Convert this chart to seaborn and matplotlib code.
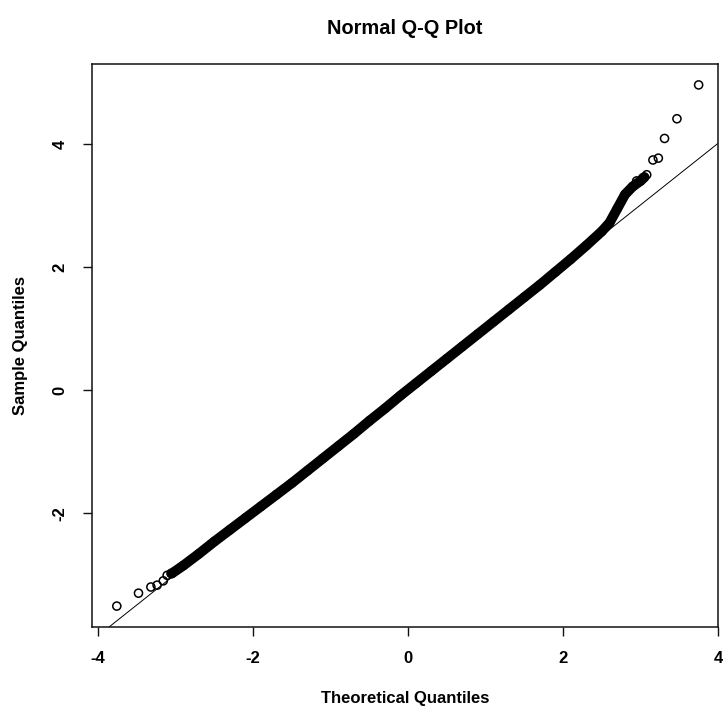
import matplotlib
matplotlib.use("Agg")
import matplotlib.pyplot as plt
import seaborn as sns
import numpy as np
import pandas as pd

# ---- data ----
# dense central band of sample quantiles (theoretical, sample)
band_theoretical = [-3.05, -2.9, -2.7, -2.5, -2.3, -2.1, -1.9, -1.7, -1.5, -1.3, -1.1, -0.9,
                    -0.7, -0.5, -0.3, -0.1, 0.1, 0.3, 0.5, 0.7, 0.9, 1.1, 1.3, 1.5, 1.7,
                    1.9, 2.1, 2.3, 2.5, 2.6, 2.7, 2.8, 2.9, 3.0, 3.05]
band_sample = [-2.98, -2.85, -2.66, -2.46, -2.27, -2.08, -1.89, -1.70, -1.51, -1.31, -1.11, -0.91,
               -0.71, -0.50, -0.30, -0.09, 0.11, 0.31, 0.51, 0.71, 0.91, 1.11, 1.31, 1.51, 1.71,
               1.92, 2.13, 2.35, 2.58, 2.72, 2.95, 3.18, 3.31, 3.40, 3.46]
# sparse tail points
tail_theoretical = [-3.76, -3.48, -3.32, -3.24, -3.16, -3.11, -3.06,
                    2.95, 3.03, 3.08, 3.16, 3.23, 3.31, 3.47, 3.75]
tail_sample = [-3.51, -3.30, -3.20, -3.17, -3.10, -3.01, -2.98,
               3.40, 3.45, 3.50, 3.74, 3.77, 4.09, 4.41, 4.96]
# reference line (qqline)
line_intercept = 0.01
line_slope = 1.0

x_ticks = [-4, -2, 0, 2, 4]
y_ticks = [-2, 0, 2, 4]
x_tick_labels = ["-4", "-2", "0", "2", "4"]
y_tick_labels = ["-2", "0", "2", "4"]

title = "Normal Q-Q Plot"
x_title = "Theoretical Quantiles"
y_title = "Sample Quantiles"

band_df = pd.DataFrame({"Theoretical": band_theoretical, "Sample": band_sample})
tail_df = pd.DataFrame({"Theoretical": tail_theoretical, "Sample": tail_sample})

sns.set_theme(style="white")
plt.rcParams["font.family"] = ["Liberation Sans", "DejaVu Sans"]
plt.rcParams["font.weight"] = "bold"
plt.rcParams["text.color"] = "black"
plt.rcParams["axes.labelcolor"] = "black"
plt.rcParams["xtick.color"] = "black"
plt.rcParams["ytick.color"] = "black"

W, H = 723, 713
fig = plt.figure(figsize=(W / 100, H / 100), dpi=100)
fig.patch.set_facecolor("white")
L, R, T, B = 92, 718, 64, 627
ax = fig.add_axes([L / W, 1 - B / H, (R - L) / W, (B - T) / H])
ax.set_facecolor("white")

ax.axline((0, line_intercept), slope=line_slope, color="black", linewidth=0.7, zorder=2)

sns.lineplot(data=band_df, x="Theoretical", y="Sample", ax=ax, color="black",
             linewidth=7.2, sort=False, estimator=None, solid_capstyle="round", zorder=3)
sns.scatterplot(data=band_df, x="Theoretical", y="Sample", ax=ax, marker="o", s=34,
                facecolor="none", edgecolor="black", linewidth=1.1, zorder=3)
sns.scatterplot(data=tail_df, x="Theoretical", y="Sample", ax=ax, marker="o", s=34,
                facecolor="none", edgecolor="black", linewidth=1.1, zorder=4)

ax.set_xlim(-4.08, 4.0)
ax.set_ylim(-3.85, 5.30)

ax.set_xticks(x_ticks)
ax.set_xticklabels(x_tick_labels)
ax.set_yticks(y_ticks)
ax.set_yticklabels(y_tick_labels, rotation=90, va="center")

for s in ax.spines.values():
    s.set_visible(True)
    s.set_color("#111111")
    s.set_linewidth(1.1)

ax.tick_params(axis="both", direction="out", length=6.5, width=1.0, color="#111111",
               labelcolor="black", labelsize=12, pad=11, bottom=True, left=True)
for lab in ax.get_xticklabels() + ax.get_yticklabels():
    lab.set_fontweight("bold")

ax.set_xlabel(x_title, fontsize=12, fontweight="bold", color="black")
ax.set_ylabel(y_title, fontsize=12, fontweight="bold", color="black")
ax.xaxis.set_label_coords((405 - L) / (R - L), (B - 698) / (B - T))
ax.xaxis.label.set_va("center")
ax.yaxis.set_label_coords((21 - L) / (R - L), 0.5)
ax.yaxis.label.set_va("center")
ax.set_title(title, fontsize=14.4, fontweight="bold", color="black",
             y=(B - 29) / (B - T), va="center", pad=0)

fig.savefig("out.png", dpi=100)
